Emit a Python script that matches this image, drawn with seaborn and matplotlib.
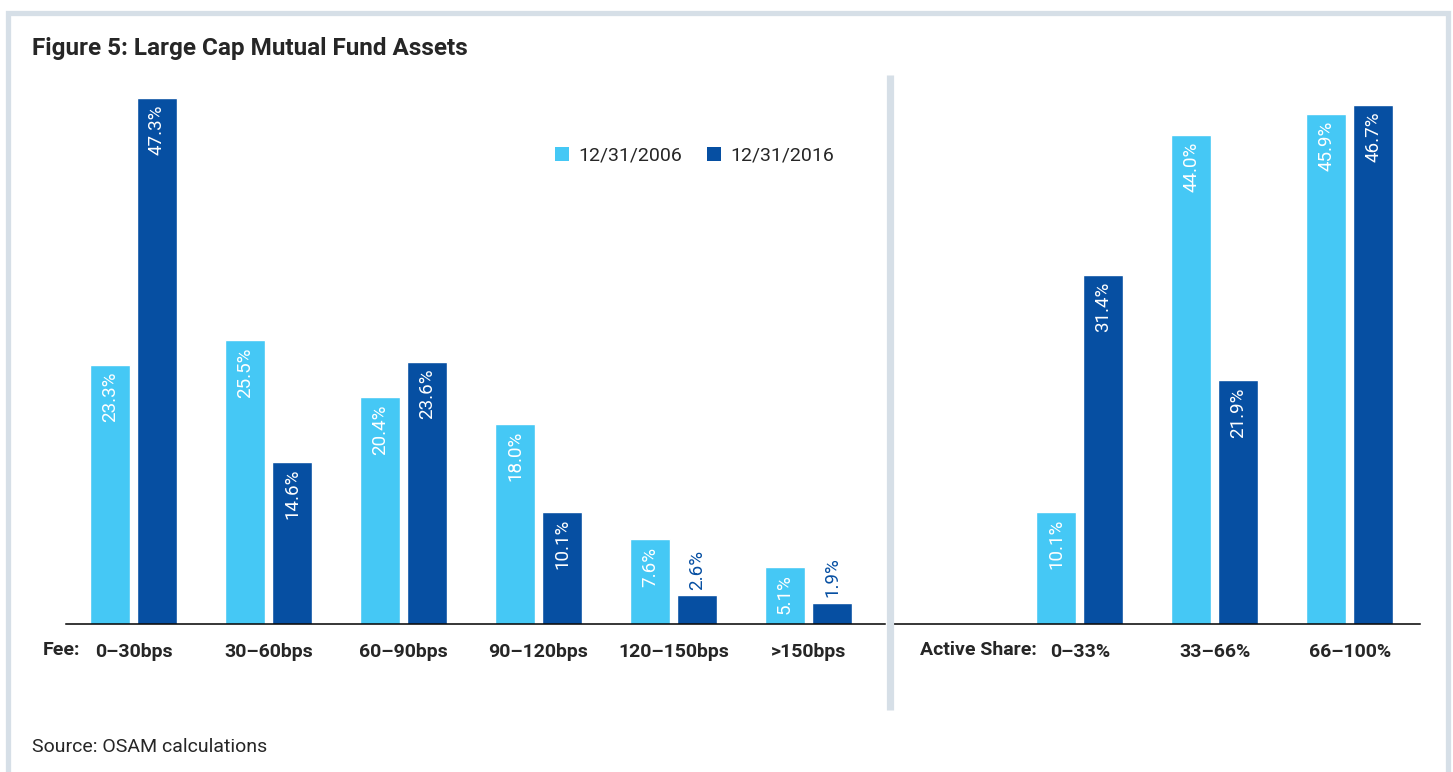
import numpy as np
import pandas as pd
import matplotlib
matplotlib.use('Agg')
import matplotlib.pyplot as plt
import seaborn as sns
from matplotlib import font_manager
from matplotlib.patches import Patch, Rectangle
from matplotlib.lines import Line2D

# data
fee_cats = ['0–30bps', '30–60bps', '60–90bps', '90–120bps', '120–150bps', '>150bps']
fee_2006 = [23.3, 25.5, 20.4, 18.0, 7.6, 5.1]
fee_2016 = [47.3, 14.6, 23.6, 10.1, 2.6, 1.9]

as_cats = ['0–33%', '33–66%', '66–100%']
as_2006 = [10.1, 44.0, 45.9]
as_2016 = [31.4, 21.9, 46.7]

dates = ['12/31/2006', '12/31/2016']
colors = ['#45c8f5', '#064fa2']
frame_col = '#d6dfe7'

# pick a narrow font if there is one
have = {f.name for f in font_manager.fontManager.ttflist}
fam = 'DejaVu Sans'
for f in ['Liberation Sans Narrow', 'Roboto', 'Liberation Sans']:
    if f in have:
        fam = f
        break

sns.set_style('white')
plt.rcParams['font.family'] = fam


def long_df(cats, v1, v2):
    df = pd.DataFrame({'cat': cats * 2,
                       'date': [dates[0]] * len(cats) + [dates[1]] * len(cats),
                       'val': v1 + v2})
    return df


def draw_panel(ax, df, xlim):
    sns.barplot(data=df, x='cat', y='val', hue='date', palette=colors,
                width=0.696, gap=0.15, saturation=1, ax=ax, legend=False)
    ax.set_ylim(0, 50)
    ax.set_xlim(*xlim)
    ax.set_xlabel('')
    ax.set_ylabel('')
    ax.set_yticks([])
    for s in ['top', 'left', 'right']:
        ax.spines[s].set_visible(False)
    ax.spines['bottom'].set_color('black')
    ax.spines['bottom'].set_linewidth(1.1)
    ax.tick_params(axis='x', length=0, pad=14)
    for t in ax.get_xticklabels():
        t.set_fontweight('bold')
        t.set_fontsize(14)
    # value labels, rotated
    for cont in ax.containers:
        for bar in cont:
            h = bar.get_height()
            xc = bar.get_x() + bar.get_width() / 2
            lab = f'{h:.1f}%'
            if h > 4:
                ax.annotate(lab, (xc, h), xytext=(0, -5), textcoords='offset points',
                            rotation=90, ha='center', va='top', color='white', fontsize=13.5)
            else:
                ax.annotate(lab, (xc, h), xytext=(0, 4), textcoords='offset points',
                            rotation=90, ha='center', va='bottom', color=colors[1], fontsize=13.5)


fig = plt.figure(figsize=(14.53, 7.72), dpi=100)

ax1 = fig.add_axes([66 / 1453, 148 / 772, 819 / 1453, 556 / 772])
ax2 = fig.add_axes([893 / 1453, 148 / 772, 527 / 1453, 556 / 772])

draw_panel(ax1, long_df(fee_cats, fee_2006, fee_2016), (-0.5, 5.567))
draw_panel(ax2, long_df(as_cats, as_2006, as_2016), (-1.385, 2.52))

# legend
handles = [Patch(facecolor=c, edgecolor='none') for c in colors]
ax1.legend(handles, dates, loc='center left', bbox_to_anchor=(0.597, 0.842),
           ncol=2, frameon=False, fontsize=14, handlelength=0.7, handleheight=0.7,
           handletextpad=0.5, columnspacing=1.3, borderpad=0, borderaxespad=0)

# titles and side labels
fig.text(32 / 1453, 1 - 48 / 772, 'Figure 5: Large Cap Mutual Fund Assets',
         fontsize=17.5, fontweight='bold', va='center', ha='left')
fig.text(43 / 1453, 1 - 650 / 772, 'Fee:', fontsize=14, fontweight='bold',
         va='center', ha='left')
fig.text(920 / 1453, 1 - 650 / 772, 'Active Share:', fontsize=14, fontweight='bold',
         va='center', ha='left')
fig.text(32 / 1453, 1 - 747 / 772, 'Source: OSAM calculations', fontsize=14,
         va='center', ha='left')

# grey frame and divider
fig.add_artist(Rectangle((7.5 / 1453, -0.1), 1440 / 1453, 1.1 - 13 / 772,
                         transform=fig.transFigure, fill=False,
                         edgecolor=frame_col, linewidth=3.8))
fig.add_artist(Line2D([889.5 / 1453] * 2, [1 - 710 / 772, 1 - 75 / 772],
                      transform=fig.transFigure, color=frame_col, linewidth=5.2,
                      solid_capstyle='butt'))

plt.savefig('out.png', dpi=100)
